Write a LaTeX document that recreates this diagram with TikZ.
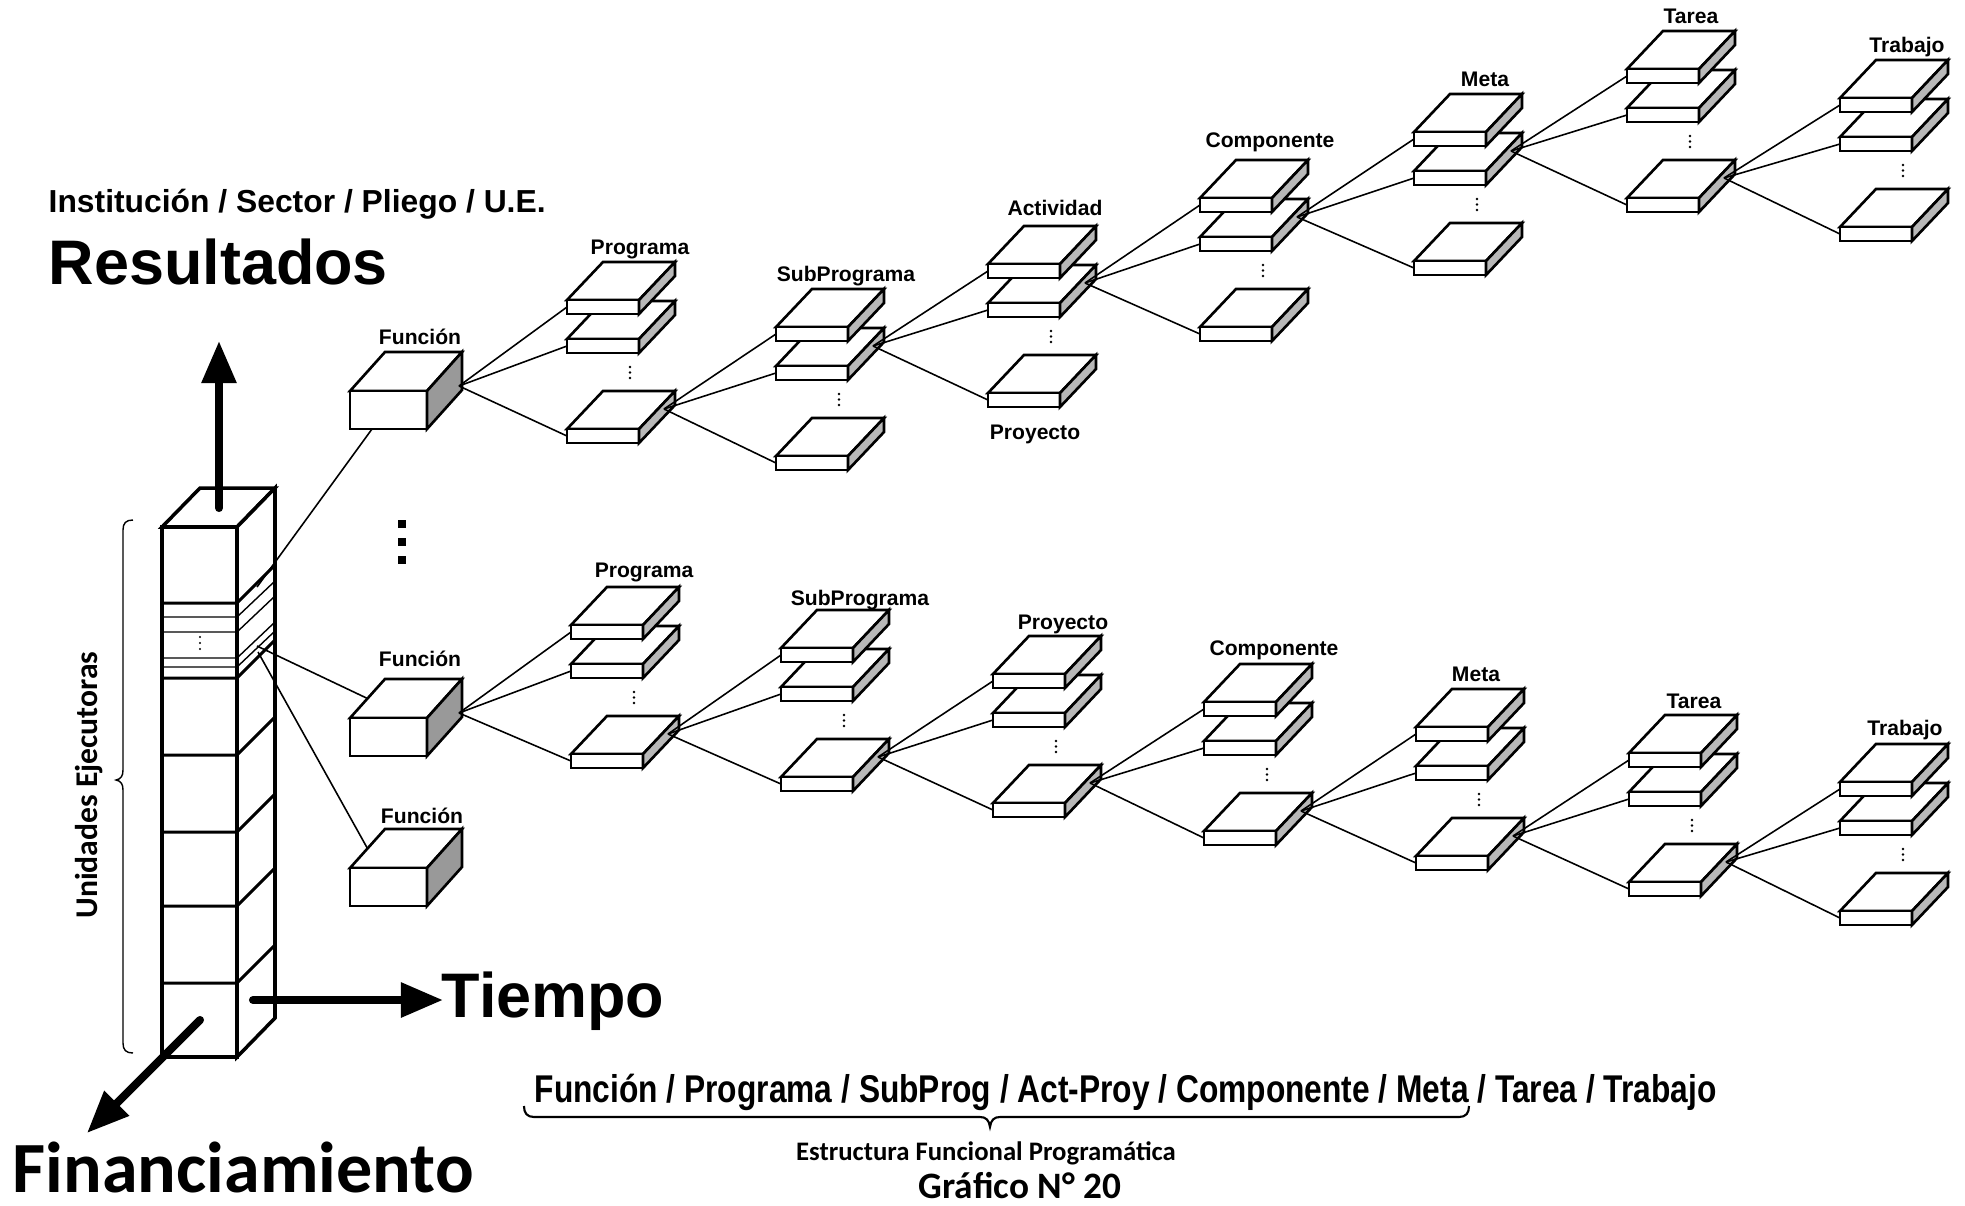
\documentclass[tikz,border=0pt]{standalone}
\usepackage{fontspec}
\setmainfont{Liberation Sans}
\newfontfamily\calib{Carlito}
\newfontfamily\narrowf{Liberation Sans}[FakeStretch=0.82]
\usetikzlibrary{arrows.meta}
\definecolor{slabshade}{gray}{0.72}
\definecolor{funcshade}{gray}{0.6}
\newcommand\slab[3]{%
  \filldraw[boxline,fill=white] (#2,#3) -- (#2+36,#3-38) -- (#2+108,#3-38) -- (#2+72,#3) -- cycle;
  \filldraw[boxline,fill=white] (#2,#3) rectangle (#2+72,#3+14);
  \filldraw[boxline,fill=slabshade] (#2+72,#3) -- (#2+108,#3-38) -- (#2+108,#3-24) -- (#2+72,#3+14) -- cycle;
  \coordinate (#1-in) at (#2,#3+7);
  \coordinate (#1-out) at (#2+97,#3-20);
}
\newcommand\slabgroup[3]{%
  \slab{#1c}{#2}{#3+129}
  \slab{#1b}{#2}{#3+39}
  \slab{#1a}{#2}{#3}
  \fill (#2+63,#3+67) circle (1.4) (#2+63,#3+72.5) circle (1.4) (#2+63,#3+78) circle (1.4);
}
\newcommand\funcbox[3]{%
  \filldraw[boxline,fill=white] (#2,#3) -- (#2+35,#3-39) -- (#2+112,#3-39) -- (#2+77,#3) -- cycle;
  \filldraw[boxline,fill=white] (#2,#3) rectangle (#2+77,#3+38);
  \filldraw[boxline,fill=funcshade] (#2+77,#3) -- (#2+112,#3-39) -- (#2+112,#3-1) -- (#2+77,#3+38) -- cycle;
  \coordinate (#1-out) at (#2+109,#3-5);
  \coordinate (#1-in) at (#2+17.5,#3-19.5);
  \coordinate (#1-bot) at (#2+22,#3+38);
}
\begin{document}
\begin{tikzpicture}[x=0.01cm,y=-0.01cm,
  boxline/.style={line width=0.75pt,line join=miter},
  tower/.style={line width=1pt},
  cellline/.style={line width=0.85pt},
  thinline/.style={line width=0.4pt},
  conn/.style={line width=0.45pt},
  lbl/.style={anchor=base,inner sep=0pt,font=\bfseries\fontsize{6}{7}\selectfont},
  bigarrow/.style={line width=2.3pt,line cap=round,-{Triangle[length=12pt,width=9.5pt]}}]
\useasboundingbox (0,0) rectangle (1965,1205);

% ---------- tower ----------
\draw[tower,fill=white] (162,527) -- (200,488) -- (275,488) -- (237,527) -- cycle;
\draw[tower,fill=white] (162,527) rectangle (237,1057);
\draw[tower,fill=white] (237,527) -- (275,488) -- (275,1018) -- (237,1057) -- cycle;
\foreach \yy in {603,678,755,832,906,983}
  \draw[cellline] (162,\yy) -- (237,\yy) -- (275,\yy-38);
\foreach \yy in {617,632,658,667}
  \draw[thinline] (162,\yy) -- (237,\yy) -- (275,\yy-36);
\fill (200,637) circle (1.2) (200,643) circle (1.2) (200,649) circle (1.2);

% ---------- axis arrows ----------
\coordinate (upS) at (219,508);   \coordinate (upE) at (219,341);
\coordinate (tS) at (253,1000);   \coordinate (tE) at (443,1000);
\coordinate (fS) at (200,1020);   \coordinate (fE) at (87,1133);
\draw[bigarrow] (upS) -- (upE);
\draw[bigarrow] (tS) -- (tE);
\draw[bigarrow] (fS) -- (fE);

% ---------- boxes ----------
\funcbox{TF}{350}{391}
\funcbox{BF}{350}{718}
\funcbox{XF}{350}{868}

\slabgroup{TP}{567}{300}
\slabgroup{TS}{776}{327}
\slabgroup{TA}{988}{264}
\slabgroup{TC}{1200}{198}
\slabgroup{TM}{1414}{132}
\slabgroup{TT}{1627}{69}
\slabgroup{TW}{1840}{98}

\slabgroup{BP}{571}{625}
\slabgroup{BS}{781}{648}
\slabgroup{BJ}{993}{674}
\slabgroup{BC}{1204}{702}
\slabgroup{BM}{1416}{727}
\slabgroup{BT}{1629}{753}
\slabgroup{BW}{1840}{782}

% big dots
\fill (398,520) rectangle (406,528);
\fill (398,538) rectangle (406,546);
\fill (398,556) rectangle (406,564);

% ---------- connectors ----------
\foreach \s/\t in {TF/TP,TPc/TS,TSb/TA,TAb/TC,TCb/TM,TMb/TT,TTc/TW,
                   BF/BP,BPc/BS,BSc/BJ,BJc/BC,BCc/BM,BMc/BT,BTc/BW}
  \foreach \k in {a,b,c}
    \draw[conn] (\s-out) -- (\t\k-in);

\coordinate (tw1) at (257,587);
\coordinate (tw2) at (257,646);
\coordinate (tw3) at (258,652);
\draw[conn] (tw1) -- (TF-bot);
\draw[conn] (tw2) -- (BF-in);
\draw[conn] (tw3) -- (XF-in);

% ---------- labels ----------
\node[lbl] (lTF) at (420,344) {Función};
\node[lbl] (lBF) at (420,666) {Función};
\node[lbl] (lXF) at (422,823) {Función};

\node[lbl] (lTP) at (640,254) {Programa};
\node[lbl] (lTS) at (846,281) {SubPrograma};
\node[lbl] (lTA) at (1055,215) {Actividad};
\node[lbl] (lTJ) at (1035,439) {Proyecto};
\node[lbl] (lTC) at (1270,147) {Componente};
\node[lbl] (lTM) at (1485,86) {Meta};
\node[lbl] (lTT) at (1691,23) {Tarea};
\node[lbl] (lTW) at (1907,52) {Trabajo};

\node[lbl] (lBP) at (644,577) {Programa};
\node[lbl] (lBS) at (860,605) {SubPrograma};
\node[lbl] (lBJ) at (1063,629) {Proyecto};
\node[lbl] (lBC) at (1274,655) {Componente};
\node[lbl] (lBM) at (1476,681) {Meta};
\node[lbl] (lBT) at (1694,708) {Tarea};
\node[lbl] (lBW) at (1905,735) {Trabajo};

\node[anchor=base west,inner sep=0pt,font=\bfseries\fontsize{9.05}{10}\selectfont] (inst) at (48,212) {Institución / Sector / Pliego / U.E.};
\node[anchor=base west,inner sep=0pt,font=\bfseries\fontsize{17.9}{20}\selectfont] (res) at (48,284) {Resultados};
\node[anchor=base west,inner sep=0pt,font=\bfseries\fontsize{17.9}{20}\selectfont] (tiempo) at (441,1017) {Tiempo};
\node[anchor=base west,inner sep=0pt,font=\calib\bfseries\fontsize{20.5}{23}\selectfont] (fin) at (12,1192) {Financiamiento};
\node[rotate=90,inner sep=0pt,font=\calib\bfseries\fontsize{9}{10}\selectfont] (ue) at (89,785) {Unidades Ejecutoras};

% left brace
\coordinate (lbT) at (133,520);
\coordinate (lbB) at (133,1053);
\draw[line width=0.4pt] (lbT) .. controls (126,520) and (123,523) .. (123,530)
  -- (123,770) .. controls (123,776) and (121,779) .. (116,780)
  .. controls (121,781) and (123,784) .. (123,790)
  -- (123,1043) .. controls (123,1050) and (126,1053) .. (lbB);

% bottom text and brace
\node[anchor=base west,inner sep=0pt,font=\narrowf\bfseries\fontsize{11}{13}\selectfont] (seq) at (534,1102) {Función / Programa / SubProg / Act-Proy / Componente / Meta / Tarea / Trabajo};
\coordinate (bbL) at (524,1106);
\coordinate (bbR) at (1469,1106);
\draw[line width=0.6pt] (bbL) .. controls (524,1113) and (527,1117) .. (534,1117)
  -- (980,1117) .. controls (986,1117) and (989,1120) .. (990,1127)
  .. controls (991,1120) and (994,1117) .. (1000,1117)
  -- (1459,1117) .. controls (1466,1117) and (1469,1113) .. (bbR);
\node[anchor=base,inner sep=0pt,font=\calib\bfseries\fontsize{7.6}{9}\selectfont] (efp) at (986,1160) {Estructura Funcional Programática};
\node[anchor=base,inner sep=0pt,font=\calib\bfseries\fontsize{10.6}{12}\selectfont] (graf) at (1020,1198) {Gráfico N° 20};
\end{tikzpicture}
\end{document}
